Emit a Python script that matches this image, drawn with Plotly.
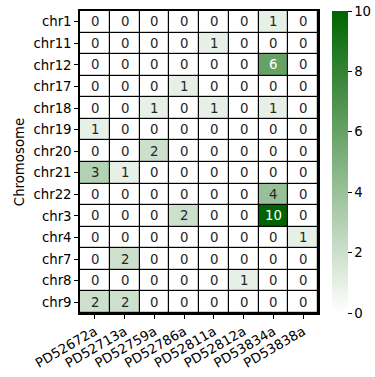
import plotly.graph_objects as go

samples = ["PD52672a", "PD52713a", "PD52759a", "PD52786a",
           "PD52811a", "PD52812a", "PD53834a", "PD53838a"]
chromosomes = ["chr1", "chr11", "chr12", "chr17", "chr18", "chr19", "chr20",
               "chr21", "chr22", "chr3", "chr4", "chr7", "chr8", "chr9"]
counts = [
    [0, 0, 0, 0, 0, 0, 1, 0],
    [0, 0, 0, 0, 1, 0, 0, 0],
    [0, 0, 0, 0, 0, 0, 6, 0],
    [0, 0, 0, 1, 0, 0, 0, 0],
    [0, 0, 1, 0, 1, 0, 1, 0],
    [1, 0, 0, 0, 0, 0, 0, 0],
    [0, 0, 2, 0, 0, 0, 0, 0],
    [3, 1, 0, 0, 0, 0, 0, 0],
    [0, 0, 0, 0, 0, 0, 4, 0],
    [0, 0, 0, 2, 0, 0, 10, 0],
    [0, 0, 0, 0, 0, 0, 0, 1],
    [0, 2, 0, 0, 0, 0, 0, 0],
    [0, 0, 0, 0, 0, 1, 0, 0],
    [2, 2, 0, 0, 0, 0, 0, 0],
]
colorbar_ticks = [0, 2, 4, 6, 8, 10]

FONT = "DejaVu Sans"
FS = 13.3
zmax = 10

fig = go.Figure()
fig.add_trace(go.Heatmap(
    z=counts, x=samples, y=chromosomes,
    zmin=0, zmax=zmax,
    colorscale=[[0, "#ffffff"], [1, "#006400"]],
    xgap=1.2, ygap=1.2,
    hoverinfo="skip",
    colorbar=dict(
        x=1.059, xanchor="left", xpad=0,
        y=0, yanchor="bottom", len=1, lenmode="fraction", ypad=0,
        thickness=16, outlinewidth=0,
        tickvals=colorbar_ticks, ticks="outside", ticklen=4,
        tickcolor="black", tickfont=dict(family=FONT, size=FS, color="black"),
    ),
))

annotations = []
for i, chrom in enumerate(chromosomes):
    for j, s in enumerate(samples):
        v = counts[i][j]
        annotations.append(dict(
            x=s, y=chrom, text=str(v), showarrow=False,
            font=dict(family=FONT, size=FS,
                      color="white" if v > 0.55 * zmax else "#262626"),
        ))

fig.update_layout(
    width=375, height=377,
    margin=dict(l=80, r=57, t=11, b=64, autoexpand=False),
    paper_bgcolor="white", plot_bgcolor="black",
    font=dict(family=FONT, size=FS, color="black"),
    annotations=annotations,
    xaxis=dict(
        type="category", ticks="outside", ticklen=4, tickcolor="black",
        tickangle=-30, showgrid=False, zeroline=False,
        showline=True, linecolor="black", linewidth=1.5, mirror=True,
        tickfont=dict(family=FONT, size=FS),
    ),
    yaxis=dict(
        type="category", autorange="reversed", ticks="outside", ticklen=4,
        tickcolor="black", showgrid=False, zeroline=False,
        showline=True, linecolor="black", linewidth=1.5, mirror=True,
        title=dict(text="Chromosome", font=dict(family=FONT, size=FS), standoff=6),
        tickfont=dict(family=FONT, size=FS),
    ),
)

fig.write_html("out.html")
